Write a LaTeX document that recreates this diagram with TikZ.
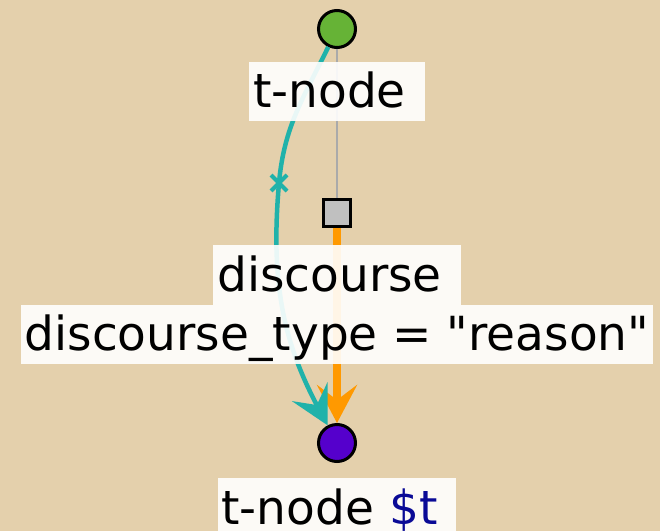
\documentclass[tikz,border=0pt]{standalone}
\usepackage{fontspec}
\setmainfont{DejaVu Sans}
\usetikzlibrary{positioning,arrows.meta,shapes.misc}
\definecolor{bg}{HTML}{E4D0AC}
\definecolor{tgreen}{HTML}{66B336}
\definecolor{tpurple}{HTML}{5500CC}
\definecolor{sqgray}{HTML}{C0C0C0}
\definecolor{egray}{HTML}{AAAAAA}
\definecolor{eorange}{HTML}{FF9900}
\definecolor{eteal}{HTML}{20B2AA}
\definecolor{varblue}{HTML}{0A0A96}
\newcommand{\trail}{\hskip.318em\null}

\begin{document}
\begin{tikzpicture}[x=1pt, y=1pt,
  lbl/.style={fill=white, fill opacity=0.9, text opacity=1, outer sep=0pt,
    inner xsep=4pt, inner ysep=2.5pt, text height=43.5pt, text depth=11pt,
    font=\fontsize{47}{56}\selectfont},
  tip/.style={-{Stealth[length=38pt, width=40pt, inset=15pt]}}]
\fill[bg] (0,0) rectangle (660,531);
\useasboundingbox (0,0) rectangle (660,531);
\node  (top)[draw, circle, fill=tgreen, line width=3pt, minimum size=37pt] at (337,502) {};
\node  (sq)[draw, rectangle, fill=sqgray, line width=3pt, minimum size=27pt] at (337,318) {};
\node  (bot)[draw, circle, fill=tpurple, line width=3pt, minimum size=37pt] at (337,88) {};
\coordinate (x) at (279,348);
\draw[egray, line width=2.5pt] (top) -- (sq);
\draw[tip, eorange, line width=7.5pt] (sq) -- (bot);
\draw[tip, eteal, line width=4.5pt] (top) to[out=-116, in=85] (x) to[out=-95, in=118] (bot);
\node  (xmark)[cross out, draw=eteal, line width=4pt, minimum size=12pt, inner sep=0pt] at (x) {};
\node  (tlab)[lbl] [below=13pt of top] {t-node\trail};
\node  (disc)[lbl] [below=17pt of sq] {discourse\trail};
\node  (dtype)[lbl] [below=0pt of disc] {discourse\_type = \textquotedbl reason\textquotedbl};
\node  (blab)[lbl] [below=15pt of bot] {t-node \textcolor{varblue}{\$t}\trail};
\end{tikzpicture}
\end{document}
